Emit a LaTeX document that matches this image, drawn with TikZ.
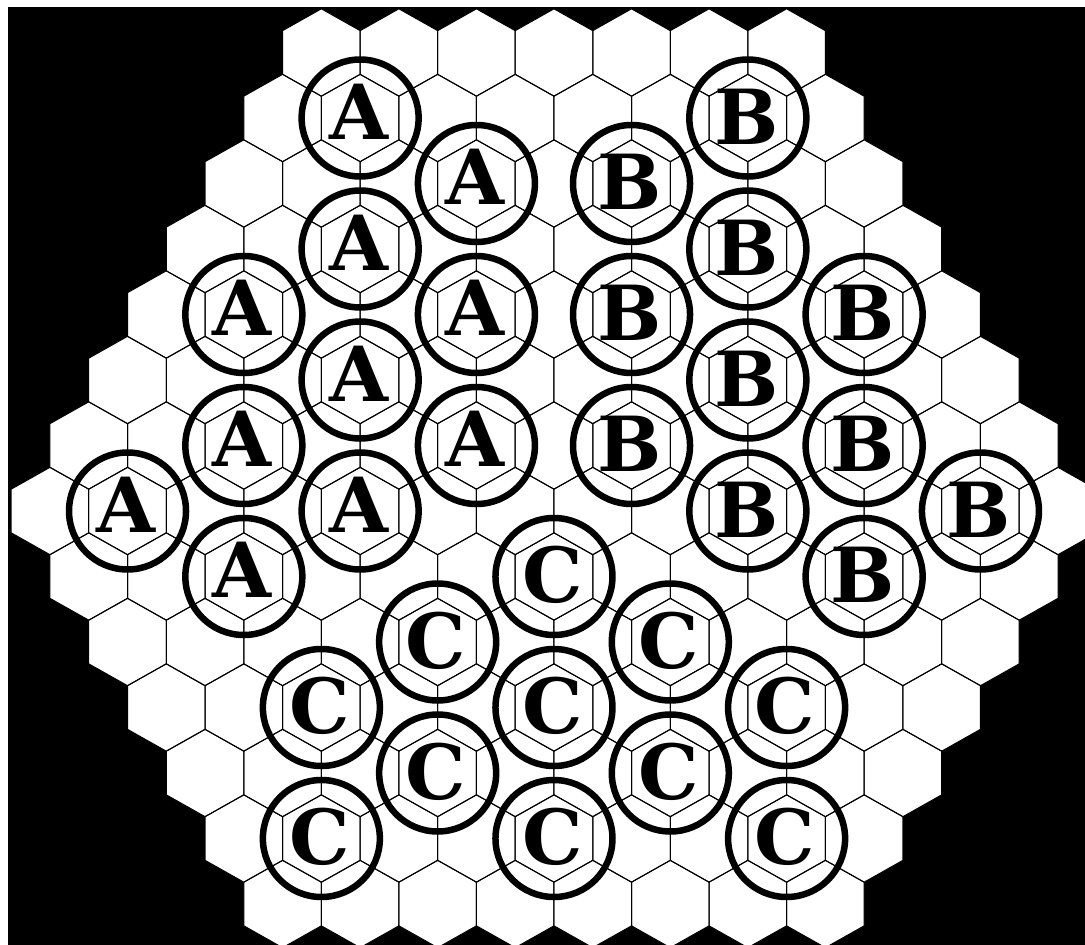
\documentclass[tikz,border=0pt]{standalone}
\usepackage{fontspec}
\newfontfamily\tokfont{DejaVu Serif}
\begin{document}
\begin{tikzpicture}[x=1pt,y=-1pt,
  hexfill/.style={fill=white,draw=none},
  hexline/.style={draw=black,line width=1pt,line join=miter},
  ring/.style={circle,draw=black,line width=6.5pt,minimum size=117pt,inner sep=0pt},
  letter/.style={inner sep=0pt,anchor=base,font=\tokfont\bfseries\fontsize{76}{76}\selectfont}]
\useasboundingbox (0,0) rectangle (1085,945);
\clip (0,0) rectangle (1085,945);
\fill[white] (0,0) rectangle (1085,945);
\fill[black] (8,7) rectangle (1085,945);
% board cells: fill first, then outline
\foreach \pass in {0,1}{
  \foreach \r in {0,...,13}{
    \pgfmathtruncatemacro\first{\r<8 ? 8-\r : \r-6}
    \pgfmathtruncatemacro\cnt{\r<8 ? 7+\r : 21-\r}
    \foreach \k in {1,...,\cnt}{
      \pgfmathsetmacro\cx{11.2+38.77*(\first+2*(\k-1))}
      \pgfmathsetmacro\cy{52.5+65.5*\r}
      \ifnum\pass=0
        \path[hexfill] (\cx,\cy) +(0,-43.67) -- +(38.77,-21.83) -- +(38.77,21.83) -- +(0,43.67) -- +(-38.77,21.83) -- +(-38.77,-21.83) -- cycle;
      \else
        \path[hexline] (\cx,\cy) +(0,-43.67) -- +(38.77,-21.83) -- +(38.77,21.83) -- +(0,43.67) -- +(-38.77,21.83) -- +(-38.77,-21.83) -- cycle;
      \fi
    }
  }
}
% tokens: name / row / column index / letter / baseline offset
\foreach \n/\r/\m/\L/\d in {
  a1/1/9/A/21, a2/2/12/A/21, a3/3/9/A/21, a4/4/6/A/21, a5/4/12/A/21, a6/5/9/A/21,
  a7/6/6/A/21, a8/6/12/A/21, a9/7/3/A/21, a10/7/9/A/21, a11/8/6/A/21,
  b1/1/19/B/26, b2/2/16/B/26, b3/3/19/B/26, b4/4/16/B/26, b5/4/22/B/26, b6/5/19/B/26,
  b7/6/16/B/26, b8/6/22/B/26, b9/7/19/B/26, b10/7/25/B/26, b11/8/22/B/26,
  c1/8/14/C/26, c2/9/11/C/26, c3/9/17/C/26, c4/10/8/C/26, c5/10/14/C/26, c6/10/20/C/26,
  c7/11/11/C/26, c8/11/17/C/26, c9/12/8/C/26, c10/12/14/C/26, c11/12/20/C/26}{
  \pgfmathsetmacro\cx{11.2+38.77*\m}
  \pgfmathsetmacro\cy{52.5+65.5*\r}
  \node[ring] (\n) at (\cx,\cy) {};
  \node[letter] (\n-t) at ([xshift=-1.5pt,yshift=-\d pt]\n.center) {\L};
}
\end{tikzpicture}
\end{document}
